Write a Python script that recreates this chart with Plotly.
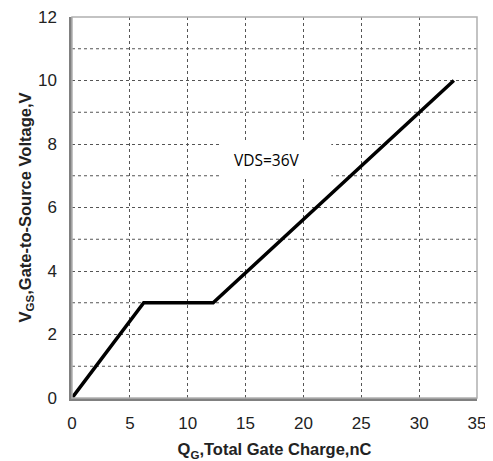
import plotly.graph_objects as go

qg = [0, 6.2, 12.2, 33]
vgs = [0, 3, 3, 10]
x_ticks = [0, 5, 10, 15, 20, 25, 30, 35]
y_ticks = [0, 2, 4, 6, 8, 10, 12]
note = "VDS=36V"

fig = go.Figure()
fig.add_trace(go.Scatter(x=qg, y=vgs, mode="lines",
                         line=dict(color="black", width=3.5), showlegend=False))

# minor horizontal gridlines at odd values
for yv in range(1, 12, 2):
    fig.add_shape(type="line", xref="x", yref="y", x0=0, x1=35, y0=yv, y1=yv,
                  line=dict(color="#555555", width=1, dash="dot"), layer="below")

fig.add_shape(type="rect", xref="paper", yref="paper", x0=0, x1=1, y0=0, y1=1,
              line=dict(color="#b0b0b0", width=1.5))

# white label box hiding the grid
fig.add_shape(type="rect", xref="x", yref="y", x0=12.93, x1=22.41, y0=6.91, y1=8.09,
              fillcolor="white", line=dict(width=0), layer="above")
fig.add_annotation(x=16.85, y=7.5, xref="x", yref="y", text=note, showarrow=False,
                   font=dict(family="Open Sans, Noto Sans, sans-serif", size=15.5, color="black"))

tickfont = dict(family="Liberation Sans, Arial", size=17, color="#222222")
titlefont = dict(family="Liberation Sans, Arial", size=16.5, color="#222222")

fig.update_xaxes(range=[0, 35], tickvals=x_ticks, ticktext=[str(v) for v in x_ticks],
                 showgrid=True, gridcolor="#555555", griddash="dot", gridwidth=1,
                 showline=True, linecolor="#808080", linewidth=2.5,
                 zeroline=False, ticks="", tickfont=tickfont, ticklabelstandoff=8,
                 ticklabeloverflow="allow",
                 title=dict(text="<b>Q<sub>G</sub>,Total Gate Charge,nC</b>", font=titlefont, standoff=12))
fig.update_yaxes(range=[0, 12], tickvals=y_ticks, ticktext=[str(v) for v in y_ticks],
                 showgrid=True, gridcolor="#555555", griddash="dot", gridwidth=1,
                 showline=True, linecolor="#808080", linewidth=2.5,
                 zeroline=False, ticks="", tickfont=tickfont, ticklabelstandoff=9,
                 ticklabeloverflow="allow",
                 title=dict(text="<b>V<sub>GS</sub>,Gate-to-Source Voltage,V</b>", font=titlefont, standoff=3))

fig.update_layout(width=485, height=453, margin=dict(l=64, r=16, t=9, b=63, autoexpand=False),
                  plot_bgcolor="white", paper_bgcolor="white")

fig.write_html("out.html")
